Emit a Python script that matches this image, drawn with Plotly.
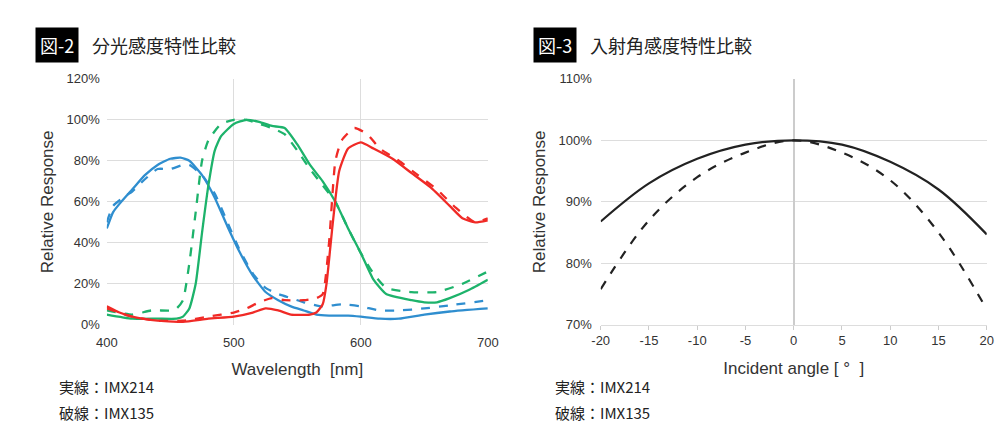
import plotly.graph_objects as go

# --- 図-2 spectral response (wavelength nm, %)
blue_214_x = [400, 405, 410, 420, 430, 440, 450, 458, 465, 475, 485, 495, 505, 515, 525, 535, 545, 555, 565, 575, 590, 600, 615, 630, 650, 670, 700]
blue_214_y = [47, 55, 59, 66, 73, 78, 81, 81.5, 80, 73, 62, 48, 35, 24, 16, 12, 9, 7, 5, 4.5, 4.5, 4, 3, 3, 5, 6.5, 8]
blue_135_x = [400, 405, 415, 420, 430, 440, 450, 460, 465, 475, 485, 495, 505, 515, 525, 535, 545, 555, 570, 585, 600, 615, 630, 650, 670, 700]
blue_135_y = [50, 58, 63, 65, 71, 76, 76, 78, 78, 73, 64, 50, 36, 25, 18, 15, 13, 11, 9, 10, 9, 7, 7, 8, 9.5, 12]
green_214_x = [400, 420, 440, 455, 460, 465, 470, 475, 480, 485, 490, 500, 510, 520, 530, 540, 550, 560, 570, 580, 590, 600, 610, 620, 640, 650, 660, 670, 685, 700]
green_214_y = [5, 3, 3, 3, 4, 8, 20, 45, 68, 85, 92, 98, 100, 99, 97, 96, 88, 78, 70, 60, 47, 35, 22, 15, 12, 11, 11, 13, 17, 22]
green_135_x = [400, 420, 435, 450, 455, 460, 465, 470, 475, 480, 490, 500, 510, 520, 530, 540, 550, 560, 570, 580, 590, 600, 610, 620, 640, 660, 680, 700]
green_135_y = [7, 5, 7, 7, 8, 12, 30, 55, 80, 90, 98, 100, 100, 98, 96, 93, 85, 76, 68, 60, 47, 35, 25, 18, 16, 16, 20, 26]
red_214_x = [400, 410, 420, 440, 460, 480, 500, 515, 525, 535, 545, 560, 565, 570, 573, 578, 583, 590, 600, 610, 625, 640, 655, 670, 680, 690, 700]
red_214_y = [9, 6, 4, 2, 1.5, 3, 4, 6, 8, 7, 5, 5, 6, 10, 20, 50, 75, 86, 89, 86, 81, 74, 67, 58, 52, 50, 51]
red_135_x = [400, 420, 440, 460, 480, 500, 510, 520, 530, 540, 555, 565, 570, 575, 580, 585, 595, 605, 615, 630, 645, 660, 675, 690, 700]
red_135_y = [8, 4, 2, 2, 4, 6, 8, 11, 13, 12, 12, 13, 15, 40, 80, 90, 96, 93, 86, 80, 73, 66, 57, 50, 52]

# --- 図-3 incident angle response
angle = [-20, -15, -10, -5, 0, 5, 10, 15, 20]
angle_214 = [86.8, 93, 97, 99.3, 100, 99.3, 96.5, 92, 84.7]
angle_135 = [75.8, 87, 94, 98, 100, 98, 93.5, 85, 72.5]
angle_ticks = ["-20", "-15", "-10", "-5", "0", "5", "10", "15", "20"]

BLUE, GREEN, RED = "#2f8ecf", "#1db36b", "#f02a26"

fig = go.Figure()
spec = [
    (blue_214_x, blue_214_y, BLUE, "solid"), (blue_135_x, blue_135_y, BLUE, "dash"),
    (green_214_x, green_214_y, GREEN, "solid"), (green_135_x, green_135_y, GREEN, "dash"),
    (red_214_x, red_214_y, RED, "solid"), (red_135_x, red_135_y, RED, "dash"),
]
for xs, ys, col, dash in spec:
    fig.add_trace(go.Scatter(x=xs, y=ys, mode="lines", line=dict(color=col, width=2.3, dash=dash, shape="spline", smoothing=0.5),
                             xaxis="x", yaxis="y", showlegend=False))
for ys, dash in [(angle_214, "solid"), (angle_135, "dash")]:
    fig.add_trace(go.Scatter(x=angle, y=ys, mode="lines", line=dict(color="#222", width=2.2, dash=dash, shape="spline"),
                             xaxis="x2", yaxis="y2", showlegend=False))

tick_font = dict(family="Arial, Liberation Sans, sans-serif", size=13, color="#333")
title_font = dict(family="Arial, Liberation Sans, sans-serif", size=17, color="#333")
grid = "#dddddd"

fig.update_layout(
    width=1008, height=437, margin=dict(l=0, r=0, t=0, b=0),
    plot_bgcolor="white", paper_bgcolor="white",
    xaxis=dict(domain=[0.098, 0.476], anchor="y", range=[400, 700], tickvals=[400, 500, 600, 700],
               showgrid=True, gridcolor=grid, zeroline=False, showline=False, tickfont=tick_font,
               ticklabelstandoff=8, automargin=False,
               title=dict(text="Wavelength  [nm]", font=title_font, standoff=14)),
    yaxis=dict(domain=[0.275, 0.838], anchor="x", range=[0, 120], tickvals=[0, 20, 40, 60, 80, 100, 120],
               ticktext=["0%", "20%", "40%", "60%", "80%", "100%", "120%"], showgrid=True, gridcolor=grid,
               zeroline=False, tickfont=tick_font, ticklabelstandoff=6, automargin=False,
               title=dict(text="Relative Response", font=title_font, standoff=8)),
    xaxis2=dict(domain=[0.588, 0.971], anchor="y2", range=[-20, 20], tickvals=angle, ticktext=angle_ticks,
                showgrid=False, zeroline=True, zerolinecolor="#cccccc", zerolinewidth=1.5,
                ticks="outside", ticklen=4, tickcolor="#ccc", tickfont=tick_font, automargin=False,
                showline=True, linecolor="#ddd",
                title=dict(text="Incident angle [ °  ]", font=title_font, standoff=14)),
    yaxis2=dict(domain=[0.275, 0.838], anchor="x2", range=[70, 110], tickvals=[70, 80, 90, 100, 110],
                ticktext=["70%", "80%", "90%", "100%", "110%"], showgrid=True, gridcolor=grid, zeroline=False,
                tickfont=tick_font, ticklabelstandoff=8, automargin=False,
                title=dict(text="Relative Response", font=title_font, standoff=8)),
)

jp = "Noto Sans CJK JP"
for x0, tag, title in [(0.027, "図-2", "分光感度特性比較"), (0.521, "図-3", "入射角感度特性比較")]:
    fig.add_annotation(x=x0, y=0.915, xref="paper", yref="paper", xanchor="left", yanchor="middle", showarrow=False,
                       text=tag, bgcolor="black", font=dict(family=jp, size=18, color="white"), borderpad=4)
    fig.add_annotation(x=x0 + 0.054, y=0.915, xref="paper", yref="paper", xanchor="left", yanchor="middle",
                       showarrow=False, text=title, font=dict(family=jp, size=18, color="#222"))
for x0 in [0.049, 0.541]:
    fig.add_annotation(x=x0, y=0.105, xref="paper", yref="paper", xanchor="left", showarrow=False,
                       text="実線：IMX214", font=dict(family=jp, size=15, color="#222"))
    fig.add_annotation(x=x0, y=0.045, xref="paper", yref="paper", xanchor="left", showarrow=False,
                       text="破線：IMX135", font=dict(family=jp, size=15, color="#222"))

fig.write_html("out.html")
